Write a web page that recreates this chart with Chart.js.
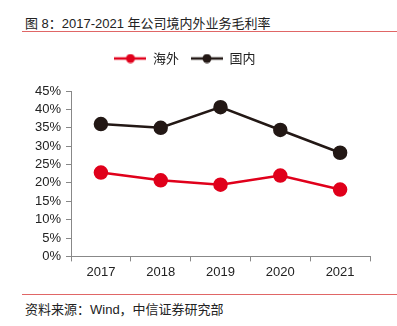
<!DOCTYPE html>
<html>
<head>
<meta charset="utf-8">
<script src="https://cdn.jsdelivr.net/npm/chart.js@4.4.0/dist/chart.umd.min.js"></script>
<style>
  body { margin: 0; background: #fff; width: 397px; height: 326px; position: relative; overflow: hidden;
         font-family: "Liberation Sans", "Noto Sans CJK SC", sans-serif; color: #222; }
  #title { position: absolute; left: 25px; top: 13px; font-size: 13px; white-space: nowrap; }
  .rule { position: absolute; left: 22px; right: 0; height: 1px; background: #e06666; }
  #source { position: absolute; left: 25px; top: 299px; font-size: 13px; white-space: nowrap; }
  #wrap { position: absolute; left: 0; top: 40px; width: 397px; height: 243px; }
</style>
</head>
<body>
<div id="title">图 8：2017-2021 年公司境内外业务毛利率</div>
<div class="rule" style="top:31px"></div>
<div id="wrap"><canvas id="myLineChart"></canvas></div>
<div class="rule" style="top:294px"></div>
<div id="source">资料来源：Wind，中信证券研究部</div>
<script>
// Data
var years = ['2017', '2018', '2019', '2020', '2021'];
var overseas = [22.8, 20.7, 19.5, 22.0, 18.2]; // 海外
var domestic = [36.0, 35.0, 40.6, 34.4, 28.2]; // 国内
var yTicks = [0, 5, 10, 15, 20, 25, 30, 35, 40, 45];

var redColor = '#e0001b';
var darkColor = '#231815';

// Little legend marker: a line with a dot on it
function makeMarker(color) {
  var c = document.createElement('canvas');
  c.width = 32; c.height = 10;
  var g = c.getContext('2d');
  g.strokeStyle = color; g.lineWidth = 2.5;
  g.beginPath(); g.moveTo(0, 5); g.lineTo(32, 5); g.stroke();
  g.fillStyle = color;
  g.beginPath(); g.arc(16, 5, 4.5, 0, Math.PI * 2); g.fill();
  return c;
}
var markers = [makeMarker(redColor), makeMarker(darkColor)];

// Push the plot down a bit below the legend
var legendGap = {
  id: 'legendGap',
  beforeInit: function(chart) {
    var fit = chart.legend.fit;
    chart.legend.fit = function() {
      fit.bind(chart.legend)();
      this.height += 16;
    };
  }
};

var ctx = document.getElementById('myLineChart').getContext('2d');

var data = {
  labels: years,
  datasets: [{
    label: '海外',
    data: overseas,
    borderColor: redColor,
    backgroundColor: redColor,
    borderWidth: 2.5,
    pointRadius: 6,
    pointHoverRadius: 6
  }, {
    label: '国内',
    data: domestic,
    borderColor: darkColor,
    backgroundColor: darkColor,
    borderWidth: 2.5,
    pointRadius: 6,
    pointHoverRadius: 6
  }]
};

var tickFont = { family: '"Liberation Sans", Arial, sans-serif', size: 13 };

var options = {
  responsive: true,
  maintainAspectRatio: false,
  animation: false,
  layout: { padding: { top: 0, right: 27, bottom: 0, left: 0 } },
  plugins: {
    legend: {
      position: 'top',
      labels: {
        usePointStyle: true,
        pointStyleWidth: 32,
        color: '#222',
        font: { family: '"Noto Sans CJK SC", sans-serif', size: 13 },
        boxHeight: 10,
        padding: 12,
        generateLabels: function(chart) {
          var items = Chart.defaults.plugins.legend.labels.generateLabels(chart);
          items.forEach(function(it, i) { it.pointStyle = markers[i]; });
          return items;
        }
      }
    },
    tooltip: { enabled: false }
  },
  scales: {
    x: {
      offset: true,
      grid: { display: true, drawOnChartArea: false, offset: true, color: '#888', tickLength: 5 },
      border: { color: '#888' },
      ticks: { color: '#222', font: tickFont, padding: 3 }
    },
    y: {
      min: 0,
      max: 45,
      afterBuildTicks: function(axis) {
        axis.ticks = yTicks.map(function(v) { return { value: v }; });
      },
      afterFit: function(axis) { axis.width = 71; },
      grid: { display: true, drawOnChartArea: false, color: '#888', tickLength: 5 },
      border: { color: '#888' },
      ticks: {
        color: '#222',
        font: tickFont,
        padding: 5,
        autoSkip: false,
        callback: function(v) { return v + '%'; }
      }
    }
  }
};

var myLineChart = new Chart(ctx, {
  type: 'line',
  data: data,
  options: options,
  plugins: [legendGap]
});
</script>
</body>
</html>
